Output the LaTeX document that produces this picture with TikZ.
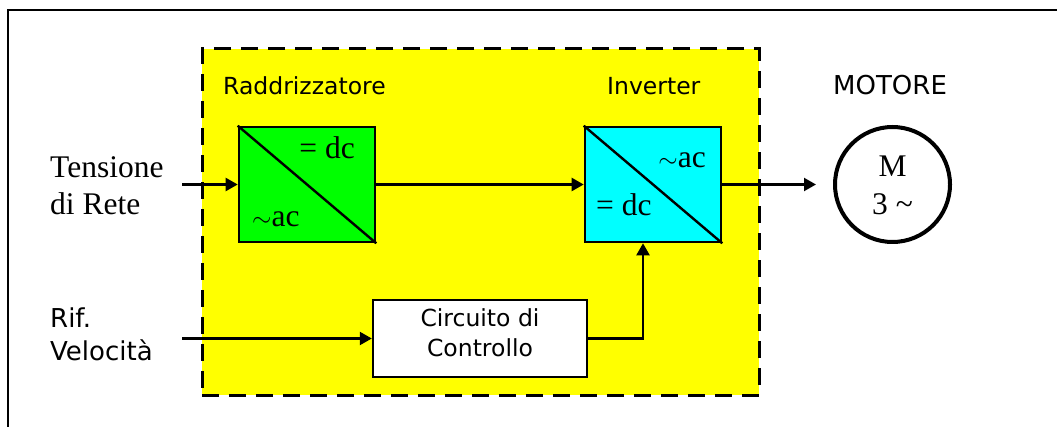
\documentclass[tikz,border=0pt]{standalone}
\usepackage{fontspec}
\setmainfont{Liberation Serif}
\newfontfamily\labsans{DejaVu Sans}
\usetikzlibrary{arrows.meta}
\definecolor{zoneyellow}{RGB}{255,255,0}
\definecolor{recgreen}{RGB}{0,255,0}
\definecolor{invcyan}{RGB}{0,255,255}
\begin{document}
\begin{tikzpicture}[x=1pt,y=-1pt,
  convbox/.style={draw, line width=2.6pt, inner sep=0pt, minimum width=136pt, minimum height=115pt},
  conn/.style={line width=2.2pt, -{Triangle[length=12pt,width=13pt]}},
  serlab/.style={font=\fontsize{31.5}{37}\selectfont, inner sep=0pt},
  sanslab/.style={font=\labsans\fontsize{23.5}{28}\selectfont, inner sep=0pt},
  sideslab/.style={font=\labsans\fontsize{26}{30}\selectfont, inner sep=0pt},
]
\useasboundingbox (0,0) rectangle (1057,427);
\fill[white] (0,0) rectangle (1057,427);
\draw[line width=2.6pt] (8,445) -- (8,10) -- (1075,10);

% dashed yellow zone
\node[draw, fill=zoneyellow, line width=3pt, dash pattern=on 17pt off 10pt,
      minimum width=557pt, minimum height=346pt, inner sep=0pt] (zone) at (480.5,222) {};

% blocks
\node[convbox, fill=recgreen] (rect) at (307,184.5) {};
\node[convbox, fill=invcyan] (inv) at (653,184.5) {};
\draw[line width=2.4pt] (rect.north west) -- (rect.south east);
\draw[line width=2.4pt] (inv.north west) -- (inv.south east);
\node[draw, fill=white, line width=2.4pt, inner sep=0pt, minimum width=214pt, minimum height=77pt] (ctrl) at (480,338.5) {};
\node[draw, circle, line width=4pt, minimum size=115pt, inner sep=0pt] (motor) at (892.5,184.5) {};

% block texts
\node[serlab, anchor=base east] (rdc) at (355,159) {= dc};
\node[serlab, anchor=base west] (rac) at (252,227) {$\sim$ac};
\node[serlab, anchor=base east] (iac) at (706,168) {$\sim$ac};
\node[serlab, anchor=base west] (idc) at (596,216) {= dc};
\node[serlab, anchor=base] (mm) at (892.5,177) {M};
\node[serlab, anchor=base] (m3) at (892.5,215) {3 \textasciitilde};
\node[sanslab, anchor=base] (c1) at (480,327) {Circuito di};
\node[sanslab, anchor=base] (c2) at (480,356) {Controllo};

% titles
\node[sanslab, anchor=base west] (traddr) at (223,95) {Raddrizzatore};
\node[sanslab, anchor=base west] (tinv) at (607,95) {Inverter};
\node[sideslab, anchor=base west] (tmot) at (833,95) {MOTORE};

% side labels
\node[serlab, anchor=base west] (ten1) at (50,178) {Tensione};
\node[serlab, anchor=base west] (ten2) at (50,215) {di Rete};
\node[sideslab, anchor=base west] (rif1) at (50,328) {Rif.};
\node[sideslab, anchor=base west] (rif2) at (50,360) {Velocità};

% connectors
\coordinate (tin) at (182,184.5);
\coordinate (rin) at (182,338.5);
\coordinate (mend) at (816,184.5);
\draw[conn] (tin) -- (rect.west);
\draw[conn] (rect.east) -- (inv.west);
\draw[conn] (inv.east) -- (mend);
\draw[conn] (rin) -- (ctrl.west);
\draw[conn] (ctrl.east) -| ([xshift=-10pt]inv.south);
\end{tikzpicture}
\end{document}
